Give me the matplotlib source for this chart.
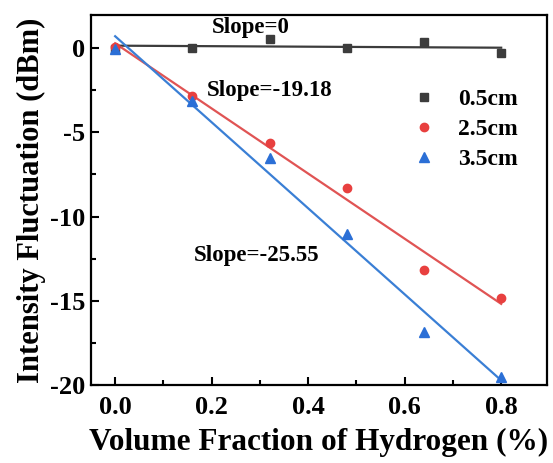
import numpy as np
import matplotlib
matplotlib.use("Agg")
import matplotlib.pyplot as plt
from matplotlib.ticker import MultipleLocator

x = [0.0, 0.16, 0.32, 0.48, 0.64, 0.80]
y_05 = [-0.05, 0.0, 0.52, 0.0, 0.34, -0.32]
y_25 = [0.08, -2.84, -5.65, -8.29, -13.15, -14.86]
y_35 = [-0.05, -3.12, -6.52, -11.03, -16.83, -19.52]
labels = ["0.5cm", "2.5cm", "3.5cm"]
slope_texts = ["Slope=0", "Slope=-19.18", "Slope=-25.55"]

plt.rcParams['font.family'] = ['Liberation Serif', 'DejaVu Serif']
plt.rcParams['font.weight'] = 'bold'
plt.rcParams['axes.unicode_minus'] = False

fig = plt.figure(figsize=(5.53, 4.63), dpi=100)
ax = fig.add_axes([0.1646, 0.1685, 0.8246, 0.799])

series = [(y_05, '#3c3c3c', '#3c3c3c', 's', 5.5),
          (y_25, '#e8403f', '#e05454', 'o', 6),
          (y_35, '#2b6fd6', '#3a7fd5', '^', 6.5)]
xa = np.array(x)
xl = np.linspace(0, 0.8, 2)
for (ys, mc, lc, m, ms), lab in zip(series, labels):
    p = np.polyfit(xa, np.array(ys), 1)
    ax.plot(xl, np.polyval(p, xl), color=lc, lw=1.6, zorder=2)
    ax.plot(x, ys, linestyle='none', marker=m, color=mc, ms=ms, label=lab, zorder=3)

ax.set_xlim(-0.05, 0.895)
ax.set_ylim(-20, 1.96)
ax.xaxis.set_major_locator(MultipleLocator(0.2))
ax.xaxis.set_minor_locator(MultipleLocator(0.1))
ax.yaxis.set_major_locator(MultipleLocator(5))
ax.yaxis.set_minor_locator(MultipleLocator(2.5))
ax.tick_params(which='both', direction='in', top=False, right=False, width=1.5)
ax.tick_params(which='major', length=6, labelsize=19)
ax.tick_params(axis='x', which='major', pad=8)
ax.tick_params(axis='y', which='major', pad=4)
ax.tick_params(which='minor', length=3.5)
for s in ax.spines.values():
    s.set_linewidth(1.6)

for lab in ax.get_xticklabels() + ax.get_yticklabels():
    lab.set_fontweight('bold')

ax.set_xlabel("Volume Fraction of Hydrogen (%)", fontsize=22.5, fontweight='bold', labelpad=6)
ax.set_ylabel("Intensity Fluctuation (dBm)", fontsize=22, fontweight='bold', labelpad=3)

ax.text(0.2, 1.25, slope_texts[0], fontsize=16.5, fontweight='bold', va='center', ha='left')
ax.text(0.19, -2.5, slope_texts[1], fontsize=16.5, fontweight='bold', va='center', ha='left')
ax.text(0.162, -12.3, slope_texts[2], fontsize=16.5, fontweight='bold', va='center', ha='left')

leg = ax.legend(loc='upper right', bbox_to_anchor=(0.957, 0.826), frameon=False,
                prop={'size': 17, 'weight': 'bold'}, handletextpad=0.7,
                labelspacing=0.36, markerscale=1.0, handlelength=1.5,
                borderaxespad=0.0)

fig.savefig("out.png", dpi=100)
